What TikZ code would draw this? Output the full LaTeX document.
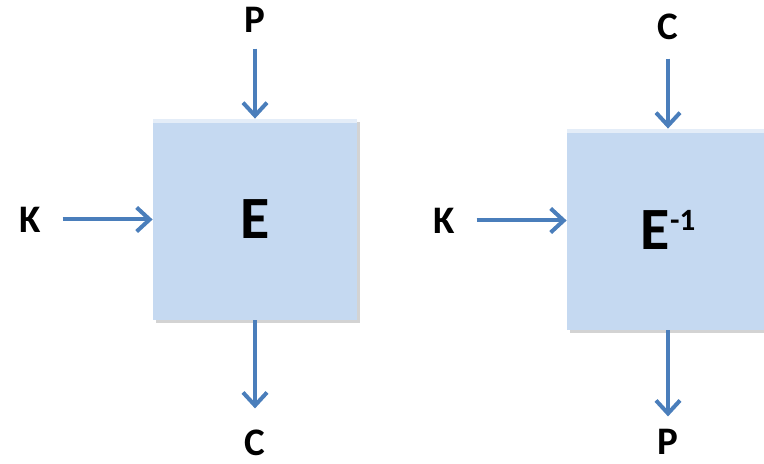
\documentclass[tikz,border=0pt]{standalone}
\usepackage{fontspec}
\setmainfont{Carlito}
\usetikzlibrary{arrows.meta,positioning,shadows}

\definecolor{boxblue}{RGB}{197,217,241}
\definecolor{arrowblue}{RGB}{74,126,187}

\begin{document}
\begin{tikzpicture}[x=0.5pt,y=-0.5pt]
    % Define styles
    \tikzstyle{cipher} = [rectangle, minimum width=102pt, minimum height=100.5pt, inner sep=0pt, fill=boxblue, font=\fontsize{30}{30}\selectfont\bfseries, drop shadow={shadow xshift=1.5pt, shadow yshift=-1.5pt, opacity=0.35}, path picture={\fill[white, opacity=0.55] (path picture bounding box.north west) rectangle ([yshift=-2pt]path picture bounding box.north east);}]
    \tikzstyle{io} = [inner sep=0pt, font=\fontsize{19.5}{19.5}\selectfont\bfseries]
    \tikzstyle{flow} = [draw=arrowblue, line width=2pt, -{Straight Barb[length=6.5pt, width=12pt]}]

    \useasboundingbox (0,0) rectangle (764,464);
    \clip (0,0) rectangle (764,464);

    % Nodes
    \node (enc) [cipher] at (255,219.5) {E};
    \node (dec) [cipher, minimum width=101pt] at (668,229.5) {E\raisebox{9.5pt}{\fontsize{15.5}{15.5}\selectfont -1}};

    \node (encin) [io, above=43pt of enc] {P};
    \node (enckey) [io, left=55.5pt of enc] {K};
    \node (encout) [io, below=54.5pt of enc] {C};

    \node (decin) [io, above=44pt of dec] {C};
    \node (deckey) [io, left=55.5pt of dec.west, yshift=4.5pt] {K};
    \node (decout) [io, below=49pt of dec] {P};

    % Arrows
    \draw [flow, shorten <=8pt] (encin) -- (enc);
    \draw [flow, shorten <=10.5pt] (enckey) -- (enc);
    \draw [flow, shorten >=10.5pt] (enc) -- (encout);
    \draw [flow, shorten <=9pt] (decin) -- (dec);
    \draw [flow, shorten <=10.5pt] (deckey) -- (deckey -| dec.west);
    \draw [flow, shorten >=6pt] (dec) -- (decout);
\end{tikzpicture}
\end{document}
